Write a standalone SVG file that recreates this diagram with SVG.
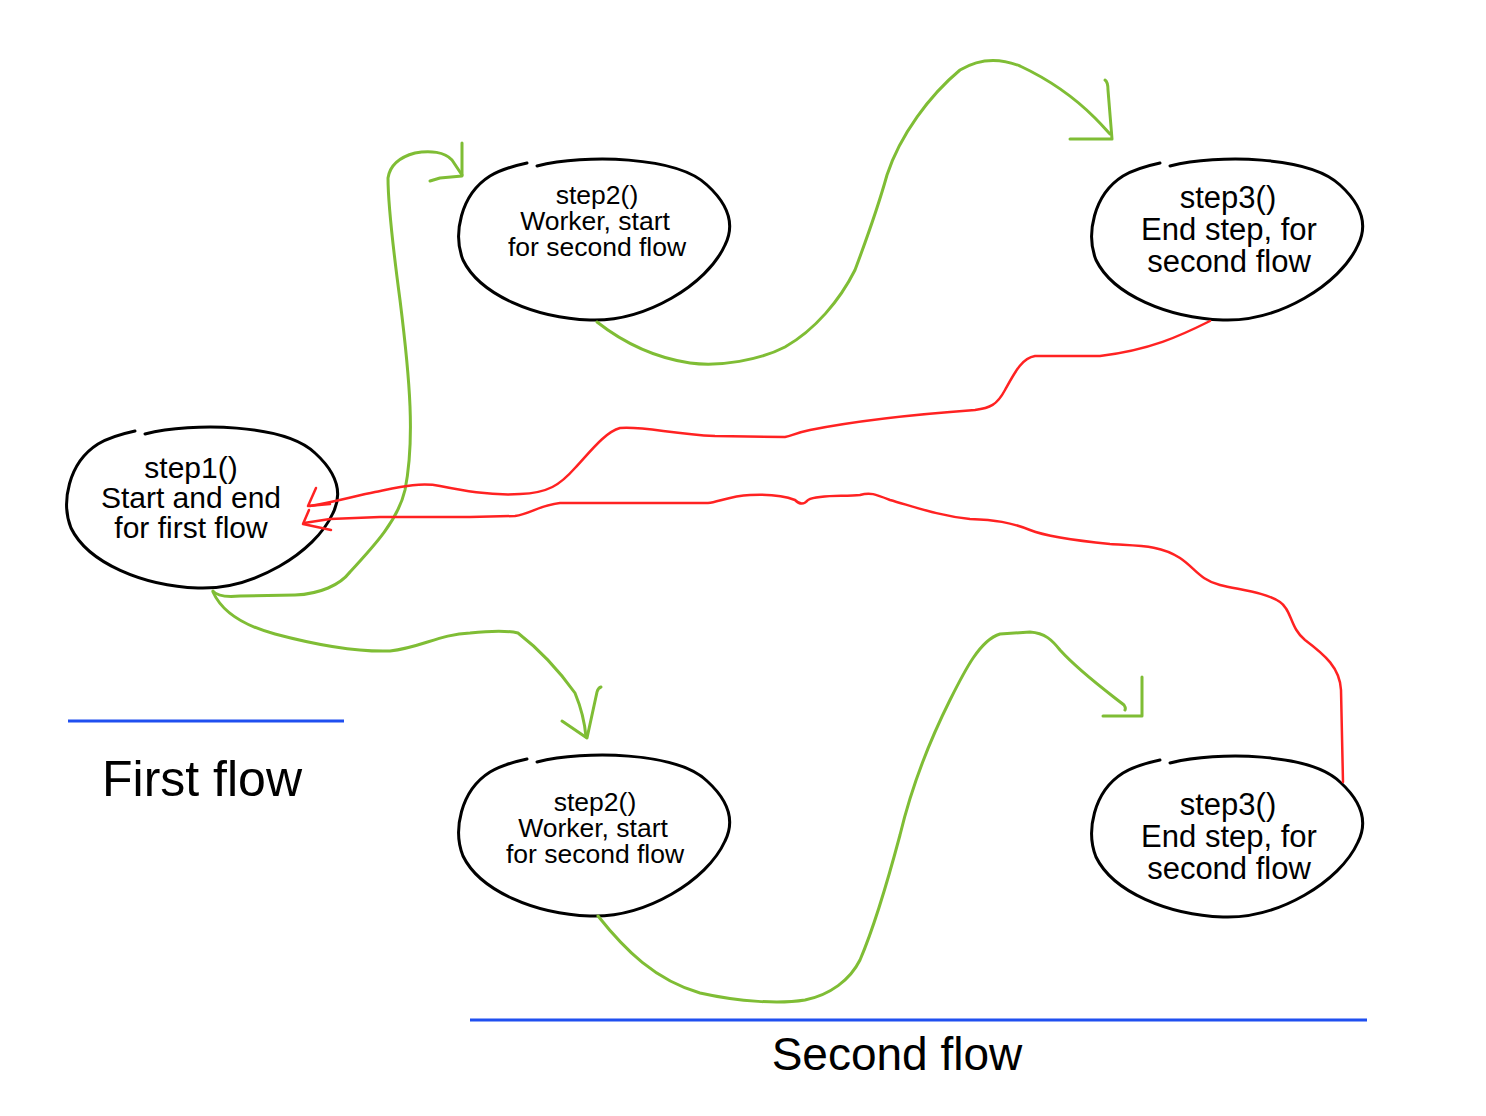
<svg xmlns="http://www.w3.org/2000/svg" xmlns:xlink="http://www.w3.org/1999/xlink" width="1486" height="1116" viewBox="0 0 1486 1116">
<style>
.blob{fill:none;stroke:#000;stroke-width:3;stroke-linecap:round;stroke-linejoin:round}
.g{fill:none;stroke:#7fbd35;stroke-width:3;stroke-linecap:round;stroke-linejoin:round}
.r{fill:none;stroke:#ff2222;stroke-width:2.5;stroke-linecap:round;stroke-linejoin:round}
.b{stroke:#1f4ff0;stroke-width:3}
text{font-family:"Liberation Sans",Arial,sans-serif;fill:#000;text-anchor:middle}
.t27{font-size:26.5px}
.t30{font-size:30px}
.t32{font-size:31px}
</style>
<defs>
<path id="blob" d="M -58,-74 C -10,-86 82,-84 112,-55 C 134,-35 140,-15 130,5 C 112,45 50,82 -5,80 C -60,78 -115,55 -132,20 C -142,-5 -135,-45 -105,-64 C -95,-70 -82,-74 -68,-77"/>
</defs>
<rect width="1486" height="1116" fill="#fff"/>
<g id="step1">
<use xlink:href="#blob" class="blob" transform="translate(203,508)"/>
<text class="t30" x="191" y="478">step1()</text>
<text class="t30" x="191" y="508">Start and end</text>
<text class="t30" x="191" y="538">for first flow</text>
</g>
<g id="step2-top">
<use xlink:href="#blob" class="blob" transform="translate(595,240)"/>
<text class="t27" x="597" y="204">step2()</text>
<text class="t27" x="595" y="230">Worker, start</text>
<text class="t27" x="597" y="256">for second flow</text>
</g>
<g id="step3-top">
<use xlink:href="#blob" class="blob" transform="translate(1228,240)"/>
<text class="t32" x="1228" y="208">step3()</text>
<text class="t32" x="1229" y="240">End step, for</text>
<text class="t32" x="1229" y="272">second flow</text>
</g>
<g id="step2-bottom">
<use xlink:href="#blob" class="blob" transform="translate(595,836)"/>
<text class="t27" x="595" y="811">step2()</text>
<text class="t27" x="593" y="837">Worker, start</text>
<text class="t27" x="595" y="863">for second flow</text>
</g>
<g id="step3-bottom">
<use xlink:href="#blob" class="blob" transform="translate(1228,837)"/>
<text class="t32" x="1228" y="815">step3()</text>
<text class="t32" x="1229" y="847">End step, for</text>
<text class="t32" x="1229" y="879">second flow</text>
</g>
<g id="labels">
<line class="b" x1="68" y1="721" x2="344" y2="721"/>
<text x="202" y="796" style="font-size:50px">First flow</text>
<line class="b" x1="470" y1="1020" x2="1367" y2="1020"/>
<text x="897" y="1070" style="font-size:46px">Second flow</text>
</g>
<g id="connectors">
<path class="g" d="M 213,591 Q 218,598 240,596 L 295,595 C 320,594 340,585 350,572 C 375,545 398,520 405,490 C 415,440 410,380 400,300 C 392,240 388,200 388,178 C 390,165 400,157 415,153 C 430,150 445,152 452,160 L 462,175"/>
<path class="g" d="M 462,143 L 462,176 L 440,178 L 430,181"/>
<path class="g" d="M 213,592 C 222,612 245,626 275,634 C 320,646 360,652 390,651 C 420,648 440,634 470,633 C 490,631 505,630 518,633 C 540,650 560,672 575,693 C 582,710 585,725 586,737"/>
<path class="g" d="M 562,721 L 587,738 L 597,692 Q 598,688 601,687"/>
<path class="g" d="M 597,322 C 620,340 650,357 690,363 C 720,367 760,360 785,347 C 815,330 840,300 855,270 C 870,230 880,200 887,175 C 900,135 930,95 960,70 C 980,58 1000,58 1020,66 C 1050,80 1075,98 1095,118 C 1103,126 1108,132 1110,134"/>
<path class="g" d="M 1105,80 Q 1108,82 1108,90 L 1112,139 L 1070,139"/>
<path class="g" d="M 598,916 C 625,950 655,980 700,993 C 740,1002 780,1004 805,1000 C 830,995 850,980 860,960 C 875,925 888,880 900,835 C 912,785 930,740 950,700 C 965,670 980,640 1000,634 L 1030,632 C 1045,633 1052,640 1060,650 C 1080,672 1105,690 1124,705 Q 1126,708 1125,710"/>
<path class="g" d="M 1142,677 L 1142,716 L 1103,716"/>
<path class="r" d="M 1210,321 C 1180,336 1150,350 1100,356 L 1035,356 C 1022,358 1015,372 1005,390 C 997,405 990,408 975,410 C 920,414 860,420 810,430 C 795,433 792,436 785,437 L 715,436 C 670,434 645,426 620,428 C 605,432 590,452 575,468 C 560,485 548,493 520,494 C 490,496 460,490 440,486 C 420,482 400,487 375,492 C 355,496 335,502 310,506"/>
<path class="r" d="M 316,488 L 308,506 L 330,504"/>
<path class="r" d="M 1343,782 L 1341,690 C 1340,668 1325,655 1305,640 C 1290,628 1292,610 1280,602 C 1265,592 1240,590 1220,585 C 1200,580 1195,568 1180,558 C 1160,545 1140,546 1110,544 C 1070,540 1045,536 1030,530 C 1010,522 995,520 970,519 C 940,516 915,507 890,500 C 875,494 870,492 860,495 C 845,497 820,494 808,500 Q 802,507 795,500 C 785,496 770,494 750,495 C 730,496 718,502 708,503 L 560,503 C 540,505 530,514 515,516 L 470,517 L 380,517 L 330,519 L 304,523"/>
<path class="r" d="M 309,510 L 303,524 L 331,530"/>
</g>
</svg>
